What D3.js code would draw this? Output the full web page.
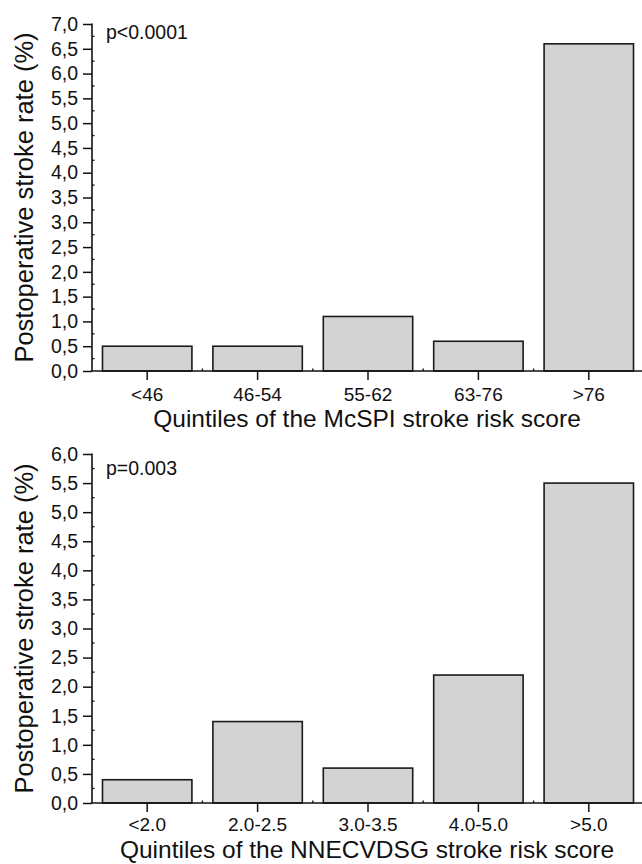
<!DOCTYPE html>
<html>
<head>
<meta charset="utf-8">
<script src="https://cdn.jsdelivr.net/npm/d3@7"></script>
<style>
    body { margin: 0; background: #fff; }
    svg text { font-family: "Liberation Sans", Arial, sans-serif; fill: #111; }
</style>
</head>
<body>
<div id="chart"></div>
<script>
// data
var mcspiCategories = ["<46", "46-54", "55-62", "63-76", ">76"];
var mcspiRates = [0.5, 0.5, 1.1, 0.6, 6.6];
var mcspiYTicks = [0, 0.5, 1, 1.5, 2, 2.5, 3, 3.5, 4, 4.5, 5, 5.5, 6, 6.5, 7];

var nnecCategories = ["<2.0", "2.0-2.5", "3.0-3.5", "4.0-5.0", ">5.0"];
var nnecRates = [0.4, 1.4, 0.6, 2.2, 5.5];
var nnecYTicks = [0, 0.5, 1, 1.5, 2, 2.5, 3, 3.5, 4, 4.5, 5, 5.5, 6];

(function (window) {
    var commaFmt = d3.formatLocale({
        decimal: ",", thousands: ".", grouping: [3], currency: ["", ""]
    }).format(".1f");

    var BarPanel = function (conf) {
        this.svg = conf.svg;
        this.categories = conf.categories;
        this.values = conf.values;
        this.yTicks = conf.yTicks;
        this.top = conf.top;
        this.bottom = conf.bottom;
        this.pText = conf.pText;
        this.pOffset = conf.pOffset;
        this.xTitle = conf.xTitle;
        this.xTitleOffset = conf.xTitleOffset;
        this.xTickPad = conf.xTickPad;
        this.init();
    };

    BarPanel.prototype.init = function () {
        var vis = this;
        var left = 92, right = 642;

        vis.x = d3.scaleBand()
            .domain(vis.categories)
            .range([left, 644])
            .paddingInner(0.19)
            .paddingOuter(0.095);

        vis.y = d3.scaleLinear()
            .domain([0, d3.max(vis.yTicks)])
            .range([vis.bottom, vis.top]);

        var g = vis.svg.append("g");

        // bars
        g.selectAll("rect.bar")
            .data(vis.values)
            .enter()
            .append("rect")
            .attr("class", "bar")
            .attr("x", function (d, i) { return vis.x(vis.categories[i]); })
            .attr("width", vis.x.bandwidth())
            .attr("y", function (d) { return vis.y(d); })
            .attr("height", function (d) { return vis.bottom - vis.y(d); })
            .attr("fill", "#d3d3d3")
            .attr("stroke", "#1a1a1a")
            .attr("stroke-width", 1.6);

        // y axis
        var yAxis = d3.axisLeft(vis.y)
            .tickValues(vis.yTicks)
            .tickFormat(commaFmt)
            .tickSize(9)
            .tickPadding(5);
        var yg = g.append("g")
            .attr("transform", "translate(" + left + ",0)")
            .call(yAxis);
        yg.select(".domain").remove();
        yg.selectAll("line").attr("stroke", "#111").attr("stroke-width", 1.5);
        yg.selectAll("text")
            .attr("font-size", "19.5px")
            .attr("fill", "#111");

        // minor y ticks (inside)
        var minor = d3.range(0, vis.yTicks.length - 1).map(function (i) {
            return (vis.yTicks[i] + vis.yTicks[i + 1]) / 2;
        });
        g.selectAll("line.ymin")
            .data(minor)
            .enter()
            .append("line")
            .attr("x1", left).attr("x2", left + 2.5)
            .attr("y1", function (d) { return vis.y(d); })
            .attr("y2", function (d) { return vis.y(d); })
            .attr("stroke", "#111").attr("stroke-width", 1.3);

        g.append("line")
            .attr("x1", left).attr("x2", left)
            .attr("y1", vis.top - 0.5).attr("y2", vis.bottom)
            .attr("stroke", "#111").attr("stroke-width", 1.6);

        // x axis
        var xAxis = d3.axisBottom(vis.x)
            .tickSize(9)
            .tickPadding(vis.xTickPad);
        var xg = g.append("g")
            .attr("transform", "translate(0," + vis.bottom + ")")
            .call(xAxis);
        xg.select(".domain").remove();
        xg.selectAll("line").attr("stroke", "#111").attr("stroke-width", 1.5);
        xg.selectAll("text")
            .attr("font-size", "19px")
            .attr("fill", "#111");

        // minor x ticks at band edges (inside)
        var edges = vis.categories.slice(1).map(function (c) {
            return vis.x(c) - vis.x.step() * vis.x.paddingInner() / 2;
        });
        g.selectAll("line.xmin")
            .data(edges)
            .enter()
            .append("line")
            .attr("x1", function (d) { return d; })
            .attr("x2", function (d) { return d; })
            .attr("y1", vis.bottom).attr("y2", vis.bottom - 2.5)
            .attr("stroke", "#111").attr("stroke-width", 1.3);

        g.append("line")
            .attr("x1", left - 0.8).attr("x2", right)
            .attr("y1", vis.bottom).attr("y2", vis.bottom)
            .attr("stroke", "#111").attr("stroke-width", 1.6);

        // titles
        g.append("text")
            .attr("transform", "translate(33," + ((vis.top + vis.bottom) / 2) + ") rotate(-90)")
            .attr("text-anchor", "middle")
            .attr("font-size", "25.5px")
            .text("Postoperative stroke rate (%)");

        g.append("text")
            .attr("x", (left + right) / 2)
            .attr("y", vis.bottom + vis.xTitleOffset)
            .attr("text-anchor", "middle")
            .attr("font-size", "24.5px")
            .text(vis.xTitle);

        g.append("text")
            .attr("x", 106)
            .attr("y", vis.top + vis.pOffset)
            .attr("font-size", "19.5px")
            .text(vis.pText);
    };

    var svg = d3.select("#chart")
        .append("svg")
        .attr("width", 642)
        .attr("height", 864);

    new BarPanel({
        svg: svg,
        categories: mcspiCategories,
        values: mcspiRates,
        yTicks: mcspiYTicks,
        top: 24,
        bottom: 371,
        pText: "p<0.0001",
        pOffset: 15,
        xTitle: "Quintiles of the McSPI stroke risk score",
        xTitleOffset: 56,
        xTickPad: 8
    });

    new BarPanel({
        svg: svg,
        categories: nnecCategories,
        values: nnecRates,
        yTicks: nnecYTicks,
        top: 454,
        bottom: 803,
        pText: "p=0.003",
        pOffset: 21,
        xTitle: "Quintiles of the NNECVDSG stroke risk score",
        xTitleOffset: 55,
        xTickPad: 6
    });
}(window));
</script>
</body>
</html>
